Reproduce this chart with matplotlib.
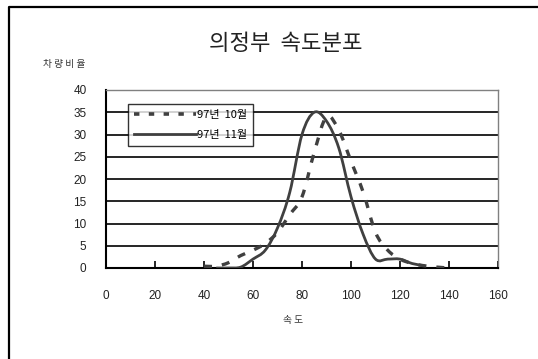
import matplotlib
matplotlib.use("Agg")
import matplotlib.pyplot as plt
from matplotlib.lines import Line2D
from matplotlib.patches import PathPatch
from matplotlib.path import Path as MplPath

plt.rcParams["font.family"] = ["Liberation Sans Narrow", "Liberation Sans", "Noto Sans CJK KR"]

# speed bins (km/h) and share of vehicles (%)
speed_oct = [40, 45, 50, 55, 60, 65, 70, 75, 80, 85, 90, 95, 100, 105, 110, 115, 120, 125, 130, 135, 140]
share_oct = [0.4, 0.4, 1.2, 2.8, 4.0, 5.5, 8.0, 12.0, 16.0, 26.0, 34.0, 31.0, 24.0, 17.0, 8.0, 4.0, 2.0, 1.0, 0.5, 0.2, 0.0]

speed_nov = [45, 50, 55, 60, 65, 70, 75, 80, 85, 90, 95, 100, 105, 110, 115, 120, 125, 130]
share_nov = [0.0, 0.0, 0.2, 2.0, 4.0, 9.0, 17.0, 30.0, 35.0, 33.0, 27.0, 16.0, 7.5, 2.0, 2.0, 2.0, 1.0, 0.5]

series_labels = ["97년  10월", "97년  11월"]
x_ticks = [0, 20, 40, 60, 80, 100, 120, 140, 160]
y_ticks = [0, 5, 10, 15, 20, 25, 30, 35, 40]

LINE_COLOR = "#404040"
KR = ["Noto Sans CJK KR", "DejaVu Sans"]
NUM = ["Liberation Sans Narrow", "Liberation Sans", "Noto Sans CJK KR"]


def smooth_path(xs, ys):
    # spreadsheet-style smoothed line: cubic bezier through every point
    pts = list(zip(xs, ys))
    verts = [pts[0]]
    codes = [MplPath.MOVETO]
    n = len(pts)
    for i in range(n - 1):
        p0 = pts[i - 1] if i > 0 else pts[i]
        p1 = pts[i]
        p2 = pts[i + 1]
        p3 = pts[i + 2] if i + 2 < n else pts[i + 1]
        c1 = (p1[0] + (p2[0] - p0[0]) / 6, p1[1] + (p2[1] - p0[1]) / 6)
        c2 = (p2[0] - (p3[0] - p1[0]) / 6, p2[1] - (p3[1] - p1[1]) / 6)
        verts += [c1, c2, p2]
        codes += [MplPath.CURVE4] * 3
    return MplPath(verts, codes)


fig = plt.figure(figsize=(5.38, 3.59), dpi=100)
fig.patch.set_facecolor("white")

# outer chart frame (top and left edges)
fig.add_artist(Line2D([9 / 538, 9 / 538, 1.0], [0.0, 1 - 7 / 359, 1 - 7 / 359],
                      transform=fig.transFigure, color="black", lw=1.6))

ax = fig.add_axes([106 / 538, 91 / 359, 392 / 538, 178 / 359])
ax.set_xlim(0, 160)
ax.set_ylim(0, 40)
ax.set_xticks(x_ticks)
ax.set_yticks(y_ticks)

for yv in y_ticks[1:-1]:
    ax.axhline(yv, color="black", lw=1.2, zorder=1)

ax.spines["left"].set_color("black")
ax.spines["left"].set_linewidth(1.5)
ax.spines["bottom"].set_color("black")
ax.spines["bottom"].set_linewidth(1.5)
ax.spines["top"].set_color("#808080")
ax.spines["right"].set_color("#808080")
ax.spines["top"].set_linewidth(1.0)
ax.spines["right"].set_linewidth(1.0)

ax.tick_params(axis="x", direction="in", length=5, width=1.2, pad=16, labelsize=8.5)
ax.tick_params(axis="y", direction="out", length=0, width=1.2, pad=14, labelsize=8.5)
for lab in ax.get_xticklabels() + ax.get_yticklabels():
    lab.set_family(NUM)
    lab.set_color("#222222")

ax.add_patch(PathPatch(smooth_path(speed_oct, share_oct), facecolor="none", edgecolor=LINE_COLOR,
                       lw=2.4, linestyle=(0, (2.4, 3.0)), capstyle="butt", zorder=3))
ax.add_patch(PathPatch(smooth_path(speed_nov, share_nov), facecolor="none", edgecolor=LINE_COLOR,
                       lw=2.0, zorder=4))

handles = [
    Line2D([], [], color=LINE_COLOR, lw=2.6, linestyle=(0, (1.5, 2.6))),
    Line2D([], [], color=LINE_COLOR, lw=2.0),
]
leg = ax.legend(handles, series_labels, loc="upper left", bbox_to_anchor=(22 / 392, 1 - 14 / 178),
                frameon=True, fancybox=False, handlelength=5.6, handletextpad=0.05,
                borderpad=0.55, labelspacing=0.9, borderaxespad=0,
                prop={"family": KR, "size": 8})
leg.get_frame().set_edgecolor("black")
leg.get_frame().set_linewidth(1.0)
leg.set_zorder(5)

fig.text(286 / 538, 1 - 44 / 359, "의정부  속도분포", ha="center", va="center",
         fontsize=16, family=KR, color="#222222")
fig.text(64 / 538, 1 - 64 / 359, "차 량 비 율", ha="center", va="center",
         fontsize=7, family=KR, color="#333333")
fig.text(293 / 538, 1 - 320 / 359, "속 도", ha="center", va="center",
         fontsize=7, family=KR, color="#333333")

fig.savefig("out.png", dpi=100)
